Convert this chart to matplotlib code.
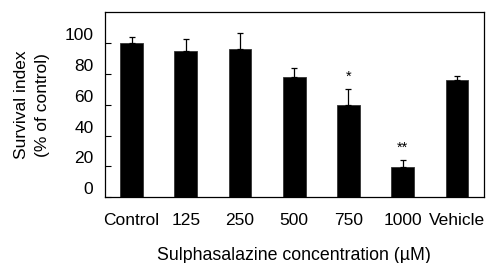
import matplotlib.pyplot as plt
import matplotlib.transforms as mtransforms

plt.rcParams['font.family'] = ['Liberation Sans', 'DejaVu Sans']

# Data
grupos = ["Control", "125", "250", "500", "750", "1000", "Vehicle"]
supervivencia = [100, 95, 96, 78, 59.5, 19.5, 76]
error = [4, 7.5, 10.5, 6, 10.5, 4.5, 2.5]
marcas = ["", "", "", "", "*", "**", ""]

fig = plt.figure(figsize=(4.93, 2.63), dpi=100)
ax = fig.add_axes([104.5 / 493, 1 - 197.3 / 263, (484 - 104.5) / 493, (197.3 - 12) / 263])

x = range(len(grupos))
ax.bar(x, supervivencia, width=0.42, color="black", edgecolor="#333333", linewidth=0.6,
       yerr=[[0] * len(error), error], capsize=2.2,
       error_kw=dict(ecolor="black", elinewidth=0.9, capthick=0.9))

# Asteriscos de significancia
for i, (v, e, m) in enumerate(zip(supervivencia, error, marcas)):
    if m:
        ax.text(i, v + e + 8, m, ha="center", va="center", fontsize=10.5)

ax.set_xlim(-0.5, 6.5)
ax.set_ylim(0, 120)
ax.set_yticks([0, 20, 40, 60, 80, 100])
ax.set_xticks(list(x))
ax.set_xticklabels(grupos)

ax.tick_params(axis="y", direction="in", length=4, width=0.8, labelsize=12.5, pad=8)
ax.tick_params(axis="x", length=0, labelsize=12.5, pad=11)

# Etiquetas del eje y ligeramente desplazadas hacia arriba
desplazamiento = mtransforms.ScaledTranslation(0, 9 / 100, fig.dpi_scale_trans)
for lbl in ax.get_yticklabels():
    lbl.set_transform(lbl.get_transform() + desplazamiento)

for s in ax.spines.values():
    s.set_linewidth(0.9)

ax.set_ylabel("Survival index\n(% of control)", fontsize=12.5, labelpad=10, linespacing=1.55)
ax.set_xlabel("Sulphasalazine concentration (\u00b5M)", fontsize=12.8, labelpad=14)

fig.savefig("out.png", dpi=100)
